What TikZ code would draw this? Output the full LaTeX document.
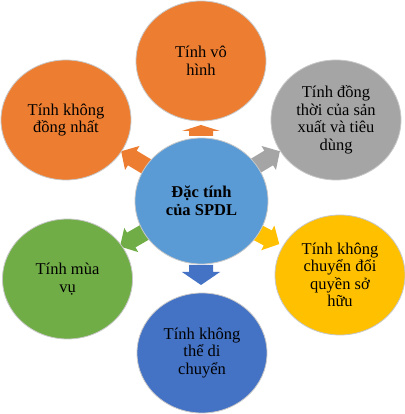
\documentclass[tikz,border=0pt]{standalone}
\usepackage{fontspec}
\setmainfont{Liberation Serif}
\usetikzlibrary{shapes.geometric}
\definecolor{cOrange}{HTML}{ED7D31}
\definecolor{cGray}{HTML}{A5A5A5}
\definecolor{cGold}{HTML}{FFC000}
\definecolor{cBlue}{HTML}{4472C4}
\definecolor{cGreen}{HTML}{70AD47}
\definecolor{cCenter}{HTML}{5B9BD5}
\definecolor{cEdge}{HTML}{C8C8C8}
% #1 x, #2 y, #3 angle, #4 length, #5 head length, #6 head width, #7 shaft width, #8 colour
\newcommand\blockarr[8]{%
  \fill[#8,shift={(#1,#2)},rotate=#3]
    (-#4/2,-#7/2) -- (#4/2-#5,-#7/2) -- (#4/2-#5,-#6/2) -- (#4/2,0)
    -- (#4/2-#5,#6/2) -- (#4/2-#5,#7/2) -- (-#4/2,#7/2) -- cycle;}
\tikzset{
  bubble/.style={ellipse, draw=cEdge, line width=0.8pt, minimum width=130pt,
    minimum height=120pt, inner sep=0pt, align=center, text=black,
    font=\fontsize{16.5}{17.5}\selectfont},
  hub/.style={bubble, minimum width=133pt, minimum height=126pt,
    font=\fontsize{16.5}{18}\selectfont\bfseries}
}
\begin{document}
\begin{tikzpicture}[x=1pt,y=1pt]
\useasboundingbox[fill=white] (0,0) rectangle (404,414);
% arrows
\blockarr{201}{283.5}{90}{11}{6}{38}{24}{cOrange}
\blockarr{201}{139}{-90}{20}{13}{38}{24}{cBlue}
\blockarr{134}{255}{149}{30}{13}{28}{17}{cOrange}
\blockarr{267}{255}{31}{30}{13}{28}{17}{cGray}
\blockarr{133}{175}{210}{30}{13}{28}{17}{cGreen}
\blockarr{266}{177}{-28}{30}{13}{28}{17}{cGold}
% circles
\node[hub, fill=cCenter] (hub) at (201.5,213) {Đặc tính\\của SPDL};
\node[bubble, fill=cOrange] (top) at (201,353) {Tính vô\\hình};
\node[bubble, fill=cOrange] (ul) at (66,294) {Tính không\\đồng nhất};
\node[bubble, fill=cGray] (ur) at (336,294) {Tính đồng\\thời của sản\\xuất và tiêu\\dùng};
\node[bubble, fill=cGold] (lr) at (340,139) {Tính không\\chuyển đổi\\quyền sở\\hữu};
\node[bubble, fill=cGreen] (ll) at (67.5,135) {Tính mùa\\vụ};
\node[bubble, fill=cBlue] (bot) at (202,61) {Tính không\\thể di\\chuyển};
\end{tikzpicture}
\end{document}
